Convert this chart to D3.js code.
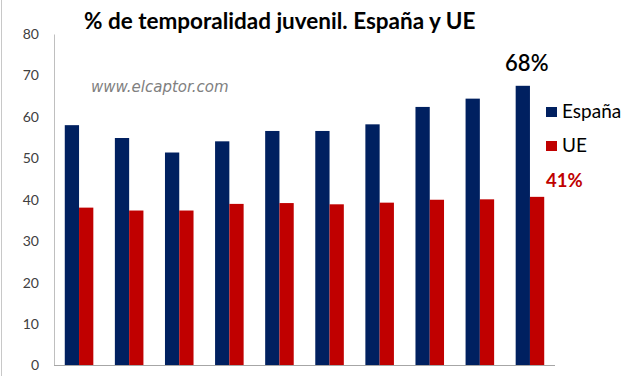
<!DOCTYPE html>
<html>
<head>
<meta charset="utf-8">
<script src="https://cdn.jsdelivr.net/npm/d3@7"></script>
<style>
  body { margin: 0; background: #fff; }
  svg text { font-family: Lato, "Open Sans", sans-serif; }
</style>
</head>
<body>
<div id="chart"></div>
<script>
var years = ['2004', '2005', '2006', '2007', '2008', '2009', '2010', '2011', '2012', '2013'];
var espana = [58.0, 54.9, 51.4, 54.1, 56.6, 56.6, 58.2, 62.4, 64.4, 67.5];
var ue = [38.1, 37.4, 37.4, 39.0, 39.2, 38.9, 39.3, 40.0, 40.1, 40.7];
var yTicks = [0, 10, 20, 30, 40, 50, 60, 70, 80];
var series = ['España', 'UE'];

var width = 627;
var height = 376;

var color = d3.scaleOrdinal()
  .domain(series)
  .range(['#002060', '#C00000']);

var svg = d3.select('#chart')
  .append('svg')
  .attr('width', width)
  .attr('height', height);

// thin frame on the left like the screenshot
svg.append('line')
  .attr('x1', 1.5).attr('x2', 1.5)
  .attr('y1', 0).attr('y2', height)
  .attr('stroke', '#c8c8c8');

var y = d3.scaleLinear()
  .domain([0, 80])
  .range([365.5, 34]);

var x0 = d3.scaleBand()
  .domain(years)
  .range([54, 555])
  .paddingInner(0.43)
  .paddingOuter(0.215);

var x1 = d3.scaleBand()
  .domain(series)
  .range([0, x0.bandwidth()]);

// y axis labels
var yAxis = svg.append('g')
  .attr('transform', 'translate(54,0)')
  .call(d3.axisLeft(y).tickValues(yTicks).tickSize(0).tickPadding(15));
yAxis.select('.domain').attr('stroke', '#bfbfbf');
yAxis.selectAll('text')
  .style('font-size', '14px')
  .attr('fill', '#404040');

var groups = svg.selectAll('.grp')
  .data(years)
  .enter()
  .append('g')
  .attr('class', 'grp')
  .attr('transform', function(d) { return 'translate(' + x0(d) + ',0)'; });

groups.selectAll('rect')
  .data(function(d, i) { return [{k: 'España', v: espana[i]}, {k: 'UE', v: ue[i]}]; })
  .enter()
  .append('rect')
  .attr('x', function(d) { return x1(d.k); })
  .attr('width', x1.bandwidth())
  .attr('y', function(d) { return y(d.v); })
  .attr('height', function(d) { return y(0) - y(d.v); })
  .attr('fill', function(d) { return color(d.k); });

// baseline
svg.append('line')
  .attr('x1', 54).attr('x2', 555)
  .attr('y1', y(0)).attr('y2', y(0))
  .attr('stroke', '#a6a6a6');

// title
svg.append('text')
  .attr('x', 84)
  .attr('y', 29)
  .style('font-size', '22.5px')
  .style('font-weight', 'bold')
  .attr('fill', '#000')
  .text('% de temporalidad juvenil. España y UE');

svg.append('text')
  .attr('x', 91)
  .attr('y', 92)
  .style('font-family', '"DejaVu Sans", sans-serif')
  .style('font-size', '15px')
  .style('font-style', 'italic')
  .attr('fill', '#808080')
  .text('www.elcaptor.com');

// last value labels
var last = years.length - 1;
svg.append('text')
  .attr('x', x0(years[last]) + x1('España') + x1.bandwidth() / 2 + 4)
  .attr('y', 71)
  .attr('text-anchor', 'middle')
  .style('font-size', '22px')
  .style('font-weight', '600')
  .text(Math.round(espana[last]) + '%');

svg.append('text')
  .attr('x', 546)
  .attr('y', 187)
  .style('font-size', '18.5px')
  .style('font-weight', 'bold')
  .attr('fill', '#C00000')
  .text(Math.round(ue[last]) + '%');

// legend
var legend = svg.selectAll('.lg')
  .data(series)
  .enter()
  .append('g')
  .attr('class', 'lg')
  .attr('transform', function(d, i) { return 'translate(546,' + (107 + i * 34) + ')'; });

legend.append('rect')
  .attr('width', 11)
  .attr('height', 10)
  .attr('fill', function(d) { return color(d); });

legend.append('text')
  .attr('x', 16)
  .attr('y', 11)
  .style('font-size', '19px')
  .attr('fill', '#000')
  .text(function(d) { return d; });
</script>
</body>
</html>
